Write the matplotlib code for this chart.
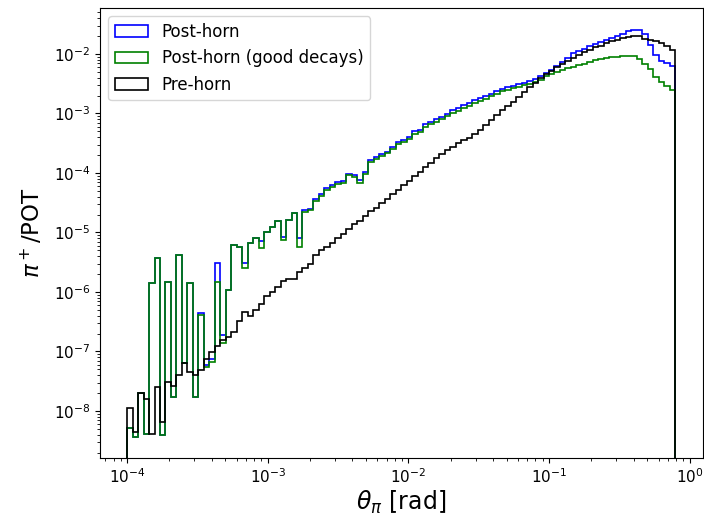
import numpy as np
import matplotlib
matplotlib.use("Agg")
import matplotlib.pyplot as plt

# log10 of pi+/POT per bin (100 log-spaced bins from 1e-4 to pi/4)
post_horn_log10 = [
    -8.29, -8.43, -7.70, -8.38, -5.85, -5.43, -8.40, -5.83, -7.76, -5.38,
    -7.20, -5.85, -7.77, -6.36, -7.22, -7.12, -5.52, -6.72, -5.97, -5.21,
    -5.24, -5.52, -5.18, -5.10, -5.15, -4.99, -4.90, -4.80, -5.08, -4.79,
    -4.68, -5.10, -4.62, -4.60, -4.44, -4.36, -4.26, -4.21, -4.15, -4.14,
    -4.01, -4.03, -4.12, -3.98, -3.78, -3.73, -3.68, -3.64, -3.57, -3.48,
    -3.45, -3.39, -3.30, -3.27, -3.18, -3.14, -3.10, -3.06, -3.01, -2.94,
    -2.90, -2.86, -2.82, -2.78, -2.74, -2.71, -2.67, -2.63, -2.59, -2.56,
    -2.53, -2.50, -2.48, -2.45, -2.42, -2.37, -2.32, -2.27, -2.20, -2.13,
    -2.06, -1.99, -1.95, -1.91, -1.87, -1.84, -1.80, -1.77, -1.73, -1.69,
    -1.66, -1.62, -1.60, -1.60, -1.66, -1.85, -2.02, -2.12, -2.15, -2.20,
]
post_horn_good_log10 = [
    -8.29, -8.43, -7.70, -8.38, -5.85, -5.43, -8.40, -5.83, -7.76, -5.38,
    -7.20, -5.85, -7.77, -6.39, -7.26, -7.17, -5.83, -6.86, -5.97, -5.21,
    -5.24, -5.60, -5.18, -5.10, -5.26, -4.99, -4.90, -4.80, -5.12, -4.79,
    -4.68, -5.24, -4.66, -4.63, -4.47, -4.39, -4.29, -4.24, -4.18, -4.17,
    -4.04, -4.06, -4.16, -4.01, -3.81, -3.76, -3.71, -3.67, -3.60, -3.51,
    -3.48, -3.43, -3.34, -3.31, -3.22, -3.18, -3.14, -3.10, -3.05, -3.00,
    -2.96, -2.91, -2.87, -2.83, -2.79, -2.75, -2.71, -2.67, -2.63, -2.60,
    -2.57, -2.55, -2.52, -2.50, -2.47, -2.43, -2.37, -2.33, -2.30, -2.27,
    -2.24, -2.22, -2.18, -2.16, -2.13, -2.10, -2.09, -2.07, -2.05, -2.05,
    -2.04, -2.03, -2.04, -2.08, -2.16, -2.26, -2.38, -2.47, -2.53, -2.60,
]
pre_horn_log10 = [
    -7.95, -8.35, -7.69, -7.80, -8.38, -7.59, -8.18, -7.51, -7.58, -7.40,
    -7.20, -7.35, -7.40, -7.31, -7.13, -7.01, -6.90, -6.80, -6.76, -6.68,
    -6.49, -6.34, -6.40, -6.31, -6.21, -6.07, -6.00, -5.92, -5.82, -5.79,
    -5.78, -5.67, -5.60, -5.53, -5.37, -5.30, -5.24, -5.17, -5.10, -5.02,
    -4.94, -4.86, -4.80, -4.72, -4.64, -4.58, -4.50, -4.43, -4.36, -4.28,
    -4.21, -4.13, -4.05, -3.98, -3.90, -3.83, -3.75, -3.68, -3.62, -3.56,
    -3.50, -3.45, -3.41, -3.34, -3.27, -3.19, -3.11, -3.02, -2.94, -2.87,
    -2.80, -2.72, -2.64, -2.55, -2.48, -2.41, -2.34, -2.28, -2.22, -2.16,
    -2.11, -2.06, -2.01, -1.97, -1.93, -1.89, -1.86, -1.82, -1.79, -1.76,
    -1.73, -1.71, -1.70, -1.70, -1.74, -1.76, -1.79, -1.82, -1.86, -1.93,
]
labels = ["Post-horn", "Post-horn (good decays)", "Pre-horn"]
colors = ["blue", "green", "black"]

edges = np.logspace(-4, np.log10(np.pi / 4), len(pre_horn_log10) + 1)
centers = np.sqrt(edges[:-1] * edges[1:])

fig = plt.figure(figsize=(7.04, 5.24), dpi=100)
ax = fig.add_axes([100 / 704, 1 - 458 / 524, 603 / 704, 450 / 524])

for series, lab, col in zip([post_horn_log10, post_horn_good_log10, pre_horn_log10], labels, colors):
    ax.hist(centers, bins=edges, weights=10.0 ** np.array(series),
            histtype="step", color=col, label=lab, linewidth=1.2)

ax.set_xscale("log")
ax.set_yscale("log")
ax.set_xlim(10 ** -4.193, 10 ** 0.094)
ax.set_ylim(10 ** -8.79, 10 ** -1.227)
ax.tick_params(labelsize=11)
ax.set_xlabel(r"$\theta_\pi$ [rad]", fontsize=17, labelpad=2)
ax.set_ylabel(r"$\pi^+$/POT", fontsize=16.5, labelpad=6)
ax.legend(loc="upper left", fontsize=12)

fig.savefig("out.png", dpi=100)
